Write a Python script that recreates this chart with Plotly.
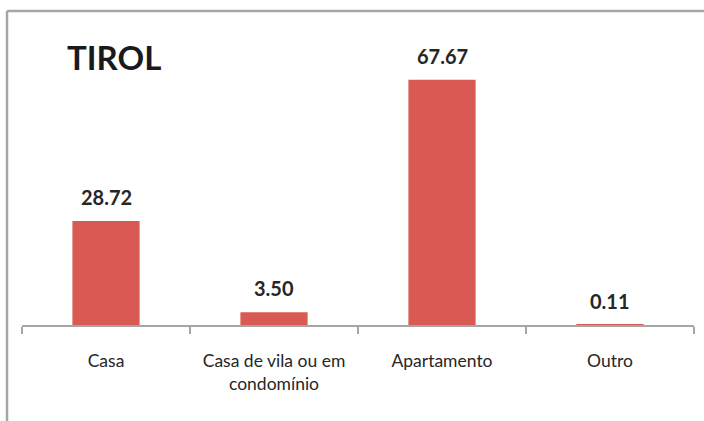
import plotly.graph_objects as go

categories = ["Casa", "Casa de vila ou em<br>condomínio", "Apartamento", "Outro"]
values = [28.72, 3.50, 67.67, 0.11]
value_labels = ["28.72", "3.50", "67.67", "0.11"]
title_text = "TIROL"

FONT = "Lato, Open Sans, sans-serif"
BAR = "#d95a53"
GRAY = "#a6a6a6"

fig = go.Figure()
fig.add_trace(go.Bar(x=categories, y=values, marker=dict(color=BAR, line=dict(width=0)),
                     width=0.4, hoverinfo="skip"))

for c, v, t in zip(categories, values, value_labels):
    fig.add_annotation(x=c, y=v, text=f"<b>{t}</b>", showarrow=False, yanchor="bottom",
                       yshift=10, font=dict(family=FONT, size=20, color="#262626"))

fig.add_annotation(xref="paper", yref="paper", x=0.064, y=0.924, xanchor="left", yanchor="middle",
                   text=f"<b>{title_text}</b>", showarrow=False,
                   font=dict(family=FONT, size=33, color="#1a1a1a"))

# chart border (left and top)
fig.add_shape(type="line", xref="paper", yref="paper", x0=-0.0223, x1=-0.0223, y0=1.0828, y1=-0.35,
              line=dict(color=GRAY, width=2.5))
fig.add_shape(type="line", xref="paper", yref="paper", x0=-0.0223, x1=1.03, y0=1.0828, y1=1.0828,
              line=dict(color=GRAY, width=2.5))

fig.update_layout(
    width=704, height=421,
    margin=dict(l=22, r=10, t=35, b=96),
    paper_bgcolor="white", plot_bgcolor="white",
    showlegend=False,
    font=dict(family=FONT, size=17.5, color="#262626"),
    xaxis=dict(showline=True, linecolor=GRAY, linewidth=2, ticks="outside", tickson="boundaries",
               ticklen=7, tickwidth=2, tickcolor=GRAY, ticklabelstandoff=19,
               tickfont=dict(family=FONT, size=17.5, color="#262626")),
    yaxis=dict(range=[0, 80], visible=False, showgrid=False, zeroline=False),
)

fig.write_html("out.html", config={"displayModeBar": False},
               post_script="document.body.style.margin='0';")
